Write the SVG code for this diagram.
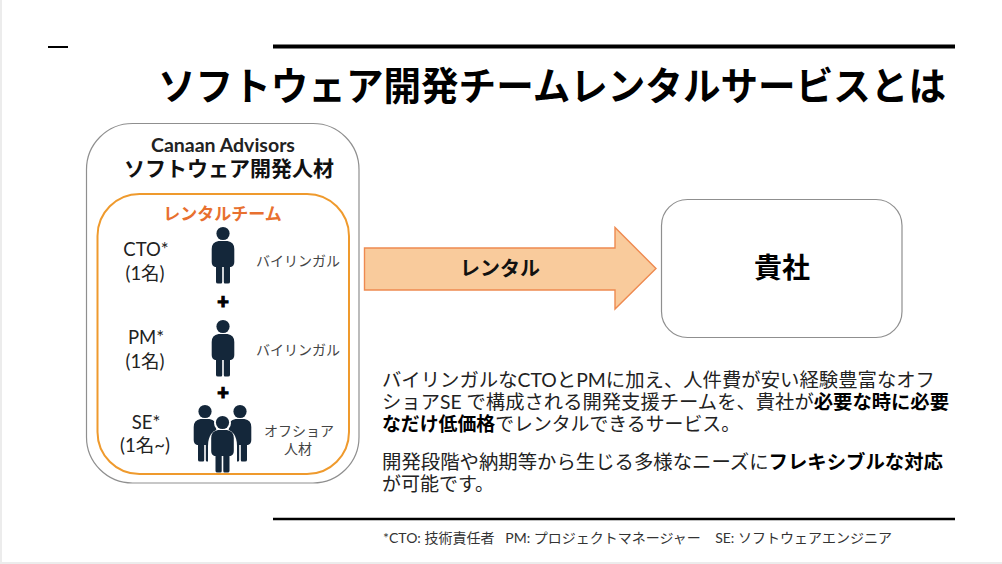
<svg xmlns="http://www.w3.org/2000/svg" width="1002" height="564" viewBox="0 0 1002 564">
<style>
text{font-family:Lato,"Noto Sans CJK JP",sans-serif;fill:#1a1a1a}
.b{font-weight:700;fill:#000}
.m{text-anchor:middle}
.role{font-size:18.5px;fill:#222}
.note{font-size:14px;fill:#444}
.body{font-size:19px;fill:#222}
.plus{font-size:20px;font-weight:900;fill:#000;stroke:#000;stroke-width:1.2}
.box{fill:#fff;stroke:#8f8f8f;stroke-width:1.2}
.rule{stroke:#000}
.p{fill:#14273a}
</style>
<defs>
<g id="person">
<circle cx="0" cy="-14.5" r="6.6"/>
<path d="M-4.5,-7 H4.5 Q11.3,-6 11.3,1 V14 Q11.3,18 8,19 H7 V34 Q7,35.5 5,35.5 H2 Q0.8,35.5 0.8,34 V19 H-0.8 V34 Q-0.8,35.5 -2,35.5 H-5 Q-7,35.5 -7,34 V19 H-8 Q-11.3,18 -11.3,14 V1 Q-11.3,-6 -4.5,-7 Z"/>
</g>
</defs>
<rect width="1002" height="564" fill="#fff"/>
<rect x="0" y="0" width="2" height="564" fill="#ececec"/>
<rect x="0" y="562" width="1002" height="2" fill="#ececec"/>
<g id="rules">
<line class="rule" x1="48" y1="47" x2="68" y2="47" stroke-width="2"/>
<line class="rule" x1="273" y1="46.5" x2="955" y2="46.5" stroke-width="4"/>
<line class="rule" x1="273" y1="519" x2="955" y2="519" stroke-width="2.5"/>
</g>
<g id="title"><text class="b" x="158" y="100" font-size="38.5" textLength="788" lengthAdjust="spacingAndGlyphs">ソフトウェア開発チームレンタルサービスとは</text></g>
<g id="advisors">
<rect class="box" x="86.5" y="123.5" width="272.5" height="359.5" rx="46"/>
<text class="b m" x="223" y="152" font-size="19.5" style="fill:#222">Canaan Advisors</text>
<text class="b m" x="229" y="176" font-size="21" style="fill:#111">ソフトウェア開発人材</text>
</g>
<g id="team">
<rect x="97.5" y="194" width="251.5" height="280" rx="42" fill="#fff" stroke="#ef9a2d" stroke-width="2"/>
<text class="b m" x="222.5" y="220" font-size="17" style="fill:#e8702f">レンタルチーム</text>
</g>
<g id="cto">
<text class="role m" x="146" y="256">CTO*</text>
<text class="role m" x="145" y="280">(1名)</text>
<use href="#person" x="223" y="248" class="p"/>
<text class="note m" x="298" y="266">バイリンガル</text>
</g>
<g id="plus1"><text class="plus m" x="223" y="309">+</text></g>
<g id="pm">
<text class="role m" x="146" y="344">PM*</text>
<text class="role m" x="145" y="368">(1名)</text>
<use href="#person" x="223" y="341" class="p"/>
<text class="note m" x="298" y="355">バイリンガル</text>
</g>
<g id="plus2"><text class="plus m" x="223" y="400">+</text></g>
<g id="se">
<text class="role m" x="146" y="429">SE*</text>
<text class="role m" x="145" y="452">(1名~)</text>
<use href="#person" x="205" y="426" class="p"/>
<use href="#person" x="240" y="426" class="p"/>
<circle cx="222.5" cy="423" r="8.5" fill="#fff"/>
<path d="M222.5,428 Q237,430 237,446 V462 H208 V446 Q208,430 222.5,428 Z" fill="#fff"/>
<use href="#person" x="222.5" y="437" class="p"/>
<text class="note m" x="299" y="436">オフショア</text>
<text class="note m" x="298" y="454">人材</text>
</g>
<g id="connectors">
<path id="rental-arrow" d="M364.5,248 H615 V227.5 L656,268.5 L615,309 V290 H364.5 Z" fill="#f9cb9c" stroke="#ee8a50" stroke-width="1.4" stroke-linejoin="miter"/>
</g>
<g id="arrow-label"><text class="b m" x="500" y="276" font-size="20" style="fill:#111">レンタル</text></g>
<g id="client">
<rect class="box" x="661.5" y="199.5" width="240.5" height="138" rx="26"/>
<text class="b m" x="782" y="278" font-size="28">貴社</text>
</g>
<g id="description">
<text class="body" x="382" y="387" textLength="553" lengthAdjust="spacingAndGlyphs">バイリンガルなCTOとPMに加え、人件費が安い経験豊富なオフ</text>
<text class="body" x="382" y="409" textLength="567" lengthAdjust="spacingAndGlyphs">ショアSE で構成される開発支援チームを、貴社が<tspan class="b">必要な時に必要</tspan></text>
<text class="body" x="382" y="431" textLength="358" lengthAdjust="spacingAndGlyphs"><tspan class="b">なだけ低価格</tspan>でレンタルできるサービス。</text>
<text class="body" x="382" y="469" textLength="561" lengthAdjust="spacingAndGlyphs">開発段階や納期等から生じる多様なニーズに<tspan class="b">フレキシブルな対応</tspan></text>
<text class="body" x="382" y="491">が可能です。</text>
</g>
<g id="footnote"><text x="383" y="543" font-size="13.5" style="fill:#333" xml:space="preserve" textLength="509" lengthAdjust="spacingAndGlyphs">*CTO: 技術責任者   PM: プロジェクトマネージャー    SE: ソフトウェアエンジニア</text></g>
</svg>
